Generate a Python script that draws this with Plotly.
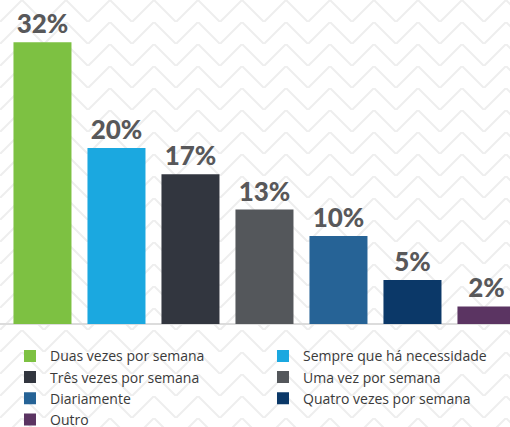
import base64
import plotly.graph_objects as go

categories = ["Duas vezes por semana", "Sempre que há necessidade", "Três vezes por semana",
              "Uma vez por semana", "Diariamente", "Quatro vezes por semana", "Outro"]
values = [32, 20, 17, 13, 10, 5, 2]
labels = ["32%", "20%", "17%", "13%", "10%", "5%", "2%"]
colors = ["#7dc142", "#1ba8e0", "#32363f", "#54575b", "#266396", "#0b3868", "#5b3462"]

# faint herringbone-like background texture (decoration)
svg = (
    '<svg xmlns="http://www.w3.org/2000/svg" width="510" height="427">'
    '<defs><pattern id="p" width="44" height="22" patternUnits="userSpaceOnUse">'
    '<polyline points="-1,23 22,0 45,23" fill="none" stroke="#eeeeee" stroke-width="2"/>'
    '</pattern></defs>'
    '<rect width="510" height="427" fill="#ffffff"/>'
    '<rect width="510" height="427" fill="url(#p)"/></svg>'
)
bg_src = "data:image/svg+xml;base64," + base64.b64encode(svg.encode()).decode()

fig = go.Figure()
for i, (c, v, t, col) in enumerate(zip(categories, values, labels, colors)):
    fig.add_trace(go.Bar(
        x=[i], y=[v], name=c, text=[t], textposition="outside",
        marker=dict(color=col, line=dict(width=0)),
        textfont=dict(family="Lato", size=26, color="#58585a", weight=900),
        width=0.784, cliponaxis=False, hoverinfo="skip",
    ))

fig.update_layout(
    width=510, height=427,
    margin=dict(l=0, r=0, t=0, b=103, autoexpand=False),
    paper_bgcolor="white", plot_bgcolor="rgba(0,0,0,0)",
    barmode="overlay", showlegend=True,
    xaxis=dict(range=[-0.574, 6.318], showticklabels=False, showgrid=False, zeroline=False,
               showline=False, fixedrange=True),
    yaxis=dict(range=[0, 36.8], showticklabels=False, showgrid=False, zeroline=True,
               zerolinecolor="#dcdcdc", zerolinewidth=1.5, showline=False),
    legend=dict(orientation="h", xref="container", yref="container",
                x=0.0196, xanchor="left", y=0.203, yanchor="top",
                entrywidth=208, entrywidthmode="pixels", traceorder="normal",
                font=dict(family="Open Sans", size=14, color="#3a3a3a"),
                itemwidth=30, tracegroupgap=0, bgcolor="rgba(0,0,0,0)"),
    images=[dict(source=bg_src, xref="paper", yref="paper", x=0, y=1,
                 sizex=1, sizey=427 / 324, sizing="stretch", layer="below",
                 xanchor="left", yanchor="top")],
)
fig.write_html("out.html", config={"displayModeBar": False},
               post_script="document.body.style.margin='0';document.body.style.overflow='hidden';")
